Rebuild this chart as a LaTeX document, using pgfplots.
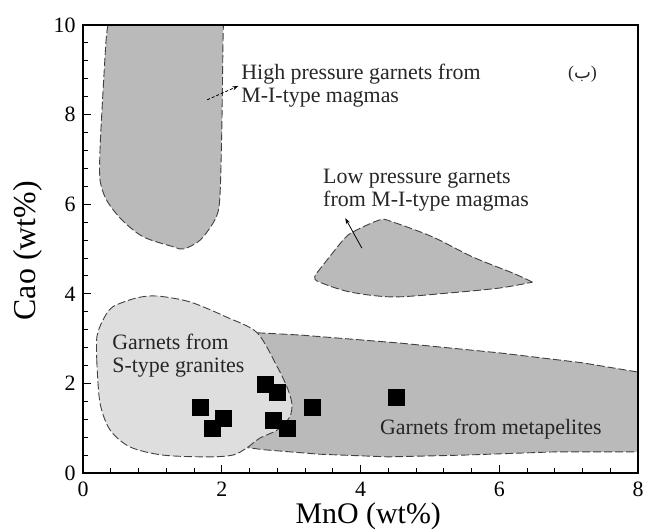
\documentclass[border=0pt]{standalone}
\usepackage{fontspec}
\setmainfont{Liberation Serif}
\newfontfamily\arabicfont[Script=Arabic]{DejaVu Sans}
\usepackage{pgfplots}
\pgfplotsset{compat=1.18}
\usetikzlibrary{arrows.meta}
\definecolor{dk}{RGB}{186,186,186}
\definecolor{lt}{RGB}{222,222,222}
\newcommand\ann{\fontsize{22}{23}\selectfont}
\begin{document}
\begin{tikzpicture}
\useasboundingbox (-83bp,-57bp) rectangle (563bp,473bp);
\begin{axis}[
  at={(0,0)}, anchor=south west,
  scale only axis, width=555bp, height=448bp,
  xmin=0, xmax=8, ymin=0, ymax=10,
  xtick={0,2,4,6,8}, ytick={0,2,4,6,8,10},
  minor tick num=4,
  tick align=inside, tick pos=left,
  major tick length=8bp, minor tick length=5bp,
  axis line style={line width=1.6bp},
  major tick style={line width=1.1bp, black},
  minor tick style={line width=0.9bp, black},
  axis on top,
  /pgf/number format/assume math mode=true,
  tick label style={font=\fontsize{22}{24}\selectfont},
  yticklabel style={xshift=-4bp},
  xticklabel style={inner sep=1bp, yshift=-8bp},
  xlabel={MnO (wt\%)}, ylabel={Cao (wt\%)},
  xlabel style={font=\fontsize{30}{34}\selectfont, at={(axis description cs:0.514,-0.1116)}, anchor=base, inner sep=0pt},
  ylabel style={font=\fontsize{32}{34}\selectfont, at={(axis description cs:-0.0847,0.496)}, anchor=base},
]
% metapelites
\addplot[fill=dk, draw=black!75, line width=0.9bp, dash pattern=on 8bp off 3bp] coordinates {
 (2.2,3.2) (2.51,3.13) (3.13,3.08) (4.57,2.90) (6.01,2.68) (7.2,2.46) (8.05,2.24)
 (8.05,0.47) (6.77,0.47) (5.5,0.40) (4.4,0.36) (3.4,0.42) (2.6,0.52) (2.2,0.6)} -- cycle;
% S-type granites
\addplot[smooth, fill=lt, draw=black!75, line width=0.9bp, dash pattern=on 8bp off 3bp] coordinates {
 (0.20,2.46) (0.20,3.04) (0.29,3.42) (0.43,3.71) (0.78,3.91) (1.07,3.95) (1.54,3.82)
 (2.07,3.48) (2.51,3.13) (2.80,2.37) (2.94,1.92) (3.01,1.56) (2.98,1.25) (2.80,0.96)
 (2.55,0.78) (2.36,0.56) (2.16,0.40) (1.79,0.36) (1.15,0.40) (0.68,0.58) (0.39,0.96)
 (0.245,1.56) (0.20,2.46)} -- cycle;
% high pressure
\addplot[smooth, fill=dk, draw=black!75, line width=0.9bp, dash pattern=on 8bp off 3bp] coordinates {
 (0.36,10) (0.33,9.6) (0.27,8.0) (0.245,7.2) (0.245,6.54) (0.34,6.09) (0.56,5.65)
 (0.87,5.27) (1.30,5.05) (1.45,5.0) (1.69,5.2) (1.90,5.65) (1.97,6.09) (2.0,7.6)
 (2.02,9.8) (2.03,10)} -- cycle;
% low pressure
\addplot[smooth, fill=dk, draw=black!75, line width=0.9bp, dash pattern=on 8bp off 3bp] coordinates {
 (6.48,4.26) (6.20,4.46) (5.62,4.82) (5.04,5.27) (4.47,5.60) (4.28,5.65) (3.89,5.38)
 (3.75,5.20) (3.46,4.64) (3.34,4.38) (3.41,4.26) (3.85,4.04) (4.47,3.93) (5.29,4.02)
 (6.01,4.13) (6.48,4.26)} -- cycle;
% samples
\addplot[only marks, mark=square*, mark size=8bp, black] coordinates {
 (1.69,1.47) (2.02,1.23) (1.86,1.00) (2.62,1.99) (2.80,1.81) (2.74,1.18) (2.94,1.00)
 (3.30,1.47) (4.52,1.70)};
% arrows
\draw[densely dashed, line width=0.8bp, -{Stealth[length=6bp,width=4bp]}] (axis cs:1.79,8.33) -- (axis cs:2.24,8.64);
\draw[line width=0.8bp, -{Stealth[length=6bp,width=4bp]}] (axis cs:4.02,5.02) -- (axis cs:3.78,5.69);
% labels
\node[anchor=west, align=left, inner sep=0pt, font=\ann, text=black!85] at (axis cs:2.28,8.64) {High pressure garnets from\\M-I-type magmas};
\node[anchor=west, align=left, inner sep=0pt, font=\ann, text=black!85] at (axis cs:3.46,6.32) {Low pressure garnets\\from M-I-type magmas};
\node[anchor=west, align=left, inner sep=0pt, font=\ann, text=black!85] at (axis cs:0.42,2.61) {Garnets from\\S-type granites};
\node[anchor=west, inner sep=0pt, font=\ann, text=black!85] at (axis cs:4.28,0.98) {Garnets from metapelites};
\node[inner sep=0pt, font=\fontsize{18}{20}\selectfont, text=black!85] at (axis cs:7.2,8.9) {({\arabicfont ب})};
\end{axis}
\end{tikzpicture}
\end{document}
